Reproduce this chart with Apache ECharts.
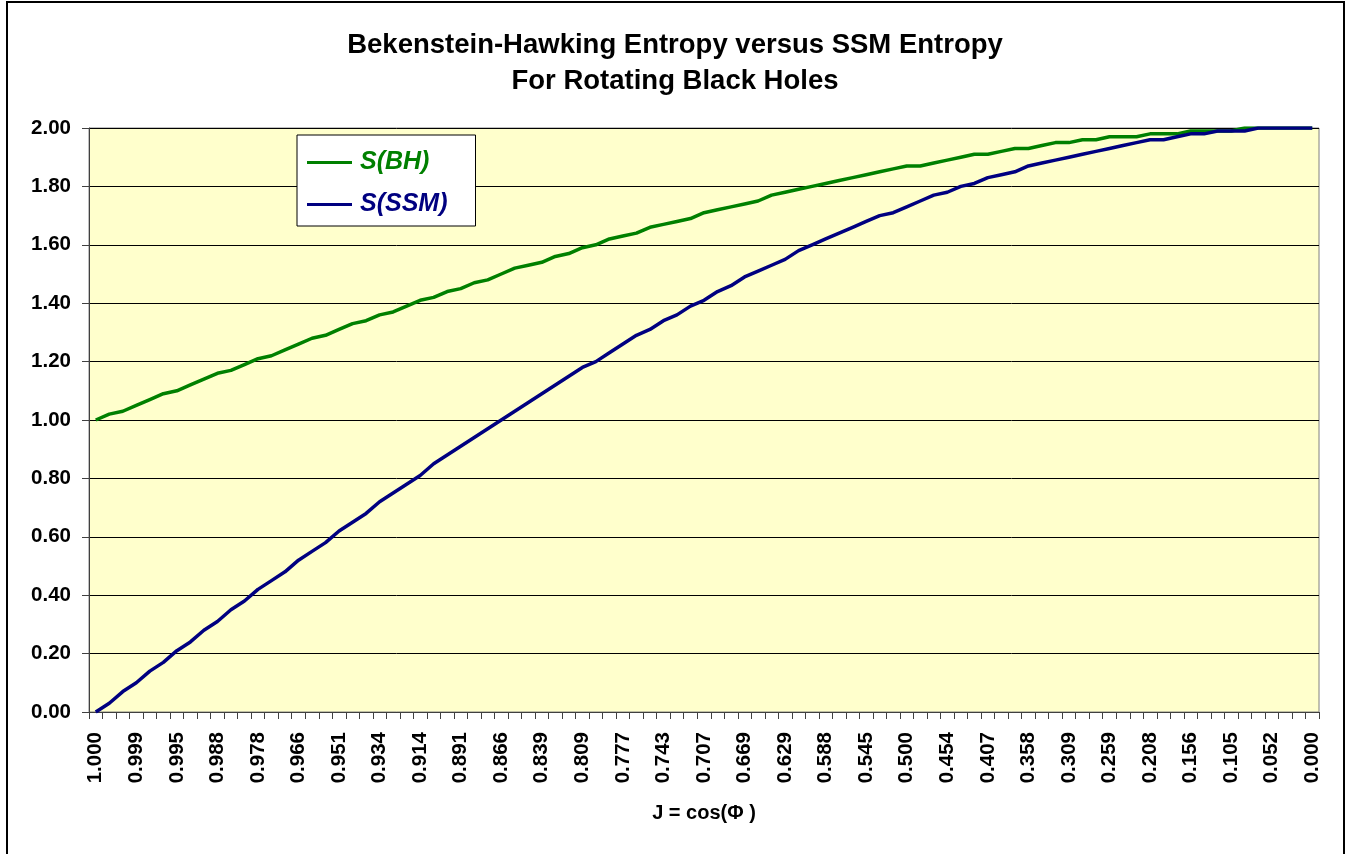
<!DOCTYPE html>
<html>
<head>
<meta charset="utf-8">
<script src="https://cdn.jsdelivr.net/npm/echarts@6/dist/echarts.min.js"></script>
<style>
html,body{margin:0;padding:0;background:#fff;}
#chart{width:1350px;height:854px;}
</style>
</head>
<body>
<div id="chart"></div>
<script>
// J = cos(Phi), Phi = 0..90 degrees
const jLabels = ["1.000","1.000","0.999","0.999","0.998","0.996","0.995","0.993","0.990","0.988",
"0.985","0.982","0.978","0.974","0.970","0.966","0.961","0.956","0.951","0.946",
"0.940","0.934","0.927","0.921","0.914","0.906","0.899","0.891","0.883","0.875",
"0.866","0.857","0.848","0.839","0.829","0.819","0.809","0.799","0.788","0.777",
"0.766","0.755","0.743","0.731","0.719","0.707","0.695","0.682","0.669","0.656",
"0.643","0.629","0.616","0.602","0.588","0.574","0.559","0.545","0.530","0.515",
"0.500","0.485","0.469","0.454","0.438","0.423","0.407","0.391","0.375","0.358",
"0.342","0.326","0.309","0.292","0.276","0.259","0.242","0.225","0.208","0.191",
"0.174","0.156","0.139","0.122","0.105","0.087","0.070","0.052","0.035","0.017","0.000"];

const sBH = [1.00,1.02,1.03,1.05,1.07,1.09,1.10,1.12,1.14,1.16,
1.17,1.19,1.21,1.22,1.24,1.26,1.28,1.29,1.31,1.33,
1.34,1.36,1.37,1.39,1.41,1.42,1.44,1.45,1.47,1.48,
1.50,1.52,1.53,1.54,1.56,1.57,1.59,1.60,1.62,1.63,
1.64,1.66,1.67,1.68,1.69,1.71,1.72,1.73,1.74,1.75,
1.77,1.78,1.79,1.80,1.81,1.82,1.83,1.84,1.85,1.86,
1.87,1.87,1.88,1.89,1.90,1.91,1.91,1.92,1.93,1.93,
1.94,1.95,1.95,1.96,1.96,1.97,1.97,1.97,1.98,1.98,
1.98,1.99,1.99,1.99,1.99,2.00,2.00,2.00,2.00,2.00,2.00];

const sSSM = [0.00,0.03,0.07,0.10,0.14,0.17,0.21,0.24,0.28,0.31,
0.35,0.38,0.42,0.45,0.48,0.52,0.55,0.58,0.62,0.65,
0.68,0.72,0.75,0.78,0.81,0.85,0.88,0.91,0.94,0.97,
1.00,1.03,1.06,1.09,1.12,1.15,1.18,1.20,1.23,1.26,
1.29,1.31,1.34,1.36,1.39,1.41,1.44,1.46,1.49,1.51,
1.53,1.55,1.58,1.60,1.62,1.64,1.66,1.68,1.70,1.71,
1.73,1.75,1.77,1.78,1.80,1.81,1.83,1.84,1.85,1.87,
1.88,1.89,1.90,1.91,1.92,1.93,1.94,1.95,1.96,1.96,
1.97,1.98,1.98,1.99,1.99,1.99,2.00,2.00,2.00,2.00,2.00];

const seriesNames = ["S(BH)", "S(SSM)"];
const titleLines = ["Bekenstein-Hawking Entropy versus SSM Entropy", "For Rotating Black Holes"];
const xAxisTitle = "J = cos(\u03A6 )";

const FONT = "Arial, 'Liberation Sans', sans-serif";
const chart = echarts.init(document.getElementById('chart'), null, {renderer: 'canvas'});
chart.setOption({
  animation: false,
  backgroundColor: '#ffffff',
  title: {
    text: titleLines.join('\n'),
    left: 675, top: 27, padding: 0,
    textAlign: 'center',
    textStyle: {fontFamily: FONT, fontWeight: 'bold', fontSize: 27.5, lineHeight: 36, color: '#000'}
  },
  graphic: [{
    type: 'rect', silent: true, z: -1,
    shape: {x: 7, y: 2, width: 1337, height: 900},
    style: {fill: 'none', stroke: '#000', lineWidth: 2}
  }],
  legend: {
    orient: 'vertical',
    left: 297, top: 135,
    padding: [15, 28, 9, 10],
    itemGap: 17,
    itemWidth: 45, itemHeight: 3,
    backgroundColor: '#ffffff',
    borderColor: '#000', borderWidth: 1, borderRadius: 0,
    icon: 'rect',
    data: [
      {name: seriesNames[0], textStyle: {color: '#008000'}},
      {name: seriesNames[1], textStyle: {color: '#000080'}}
    ],
    textStyle: {fontFamily: FONT, fontWeight: 'bold', fontStyle: 'italic', fontSize: 25, padding: [0,0,0,3]}
  },
  grid: {
    left: 89, top: 128, right: 31, bottom: 142,
    containLabel: false, outerBoundsMode: 'none',
    show: true, backgroundColor: '#FFFFCC', borderColor: '#808080', borderWidth: 1
  },
  xAxis: {
    type: 'category',
    data: jLabels,
    boundaryGap: true,
    name: xAxisTitle,
    nameLocation: 'middle',
    nameGap: 91,
    nameTextStyle: {fontFamily: FONT, fontWeight: 'bold', fontSize: 20, color: '#000'},
    axisLine: {show: true, lineStyle: {color: '#404040', width: 1}},
    axisTick: {show: true, interval: 0, alignWithLabel: false, length: 7, lineStyle: {color: '#404040'}},
    axisLabel: {interval: 2, rotate: 90, margin: 20, fontFamily: FONT, fontWeight: 'bold', fontSize: 20.5, color: '#000'},
    splitLine: {show: false}
  },
  yAxis: {
    type: 'value',
    min: 0, max: 2, interval: 0.2,
    axisLine: {show: true, lineStyle: {color: '#404040', width: 1}},
    axisTick: {show: true, length: 7, lineStyle: {color: '#404040'}},
    axisLabel: {margin: 18, fontFamily: FONT, fontWeight: 'bold', fontSize: 20.5, color: '#000',
      formatter: v => v.toFixed(2)},
    splitLine: {show: true, lineStyle: {color: '#000', width: 1}}
  },
  series: [
    {name: seriesNames[0], type: 'line', data: sBH, showSymbol: false, symbol: 'none',
     lineStyle: {color: '#008000', width: 3.5}, itemStyle: {color: '#008000'}},
    {name: seriesNames[1], type: 'line', data: sSSM, showSymbol: false, symbol: 'none',
     lineStyle: {color: '#000080', width: 3.5}, itemStyle: {color: '#000080'}}
  ]
});
</script>
</body>
</html>
